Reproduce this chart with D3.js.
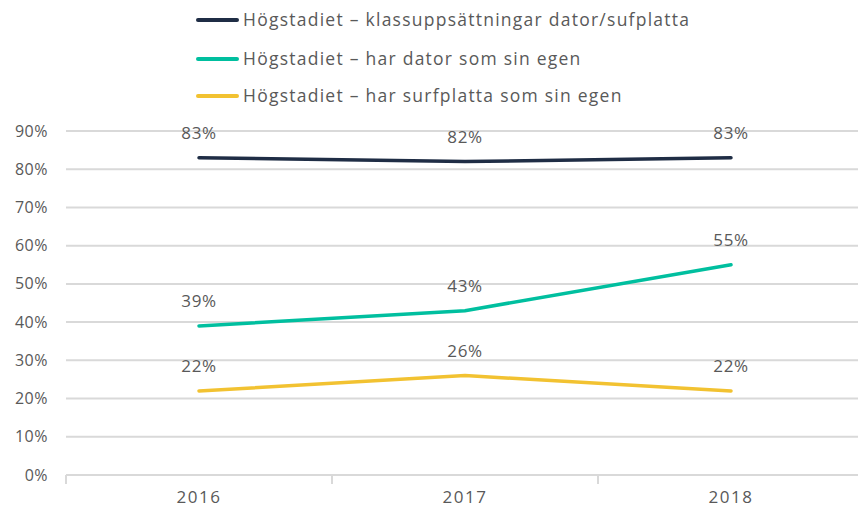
<!DOCTYPE html>
<html>
<head>
<meta charset="utf-8">
<script src="https://cdn.jsdelivr.net/npm/d3@7"></script>
<style>
  body { margin: 0; background: #fff; }
  text { font-family: "Open Sans", "Lato", sans-serif; fill: #595959; }
</style>
</head>
<body>
<svg id="chart" width="858" height="507"></svg>
<script>
const years = ["2016", "2017", "2018"];
const seriesNames = [
    "Högstadiet – klassuppsättningar dator/sufplatta",
    "Högstadiet – har dator som sin egen",
    "Högstadiet – har surfplatta som sin egen"
];
const seriesColors = ["#1f2d45", "#00bf9f", "#f2c231"];
const klassValues = [83, 82, 83];
const datorValues = [39, 43, 55];
const surfValues = [22, 26, 22];
const yTicks = [0, 10, 20, 30, 40, 50, 60, 70, 80, 90];

const allSeries = [klassValues, datorValues, surfValues];

const svg = d3.select("#chart");
const x = d3.scaleBand().domain(years).range([66, 864]);
const y = d3.scaleLinear().domain([0, 90]).range([475, 131]);

// gridlines
svg.append("g").selectAll("line")
    .data(yTicks).enter().append("line")
    .attr("x1", 66).attr("x2", 858)
    .attr("y1", d => y(d)).attr("y2", d => y(d))
    .attr("stroke", "#d9d9d9").attr("stroke-width", 2);

// y labels
svg.append("g").selectAll("text")
    .data(yTicks).enter().append("text")
    .attr("x", 48).attr("y", d => y(d))
    .attr("dy", "0.35em").attr("text-anchor", "end")
    .attr("font-size", 16).attr("letter-spacing", 0.5)
    .text(d => d + "%");

// x axis
const xAxis = svg.append("g").attr("transform", `translate(0,${y(0)})`)
    .call(d3.axisBottom(x).tickSize(0).tickPadding(16));
xAxis.select(".domain").remove();
xAxis.selectAll("text").attr("font-size", 17).attr("fill", "#595959")
    .attr("letter-spacing", 1.5)
    .attr("font-family", "Open Sans, Lato, sans-serif");
svg.append("g").selectAll("line")
    .data([66, ...years.map(d => x(d) + x.bandwidth())]).enter().append("line")
    .attr("x1", d => d).attr("x2", d => d)
    .attr("y1", y(0)).attr("y2", y(0) + 9)
    .attr("stroke", "#d9d9d9").attr("stroke-width", 2);

const line = d3.line()
    .x((d, i) => x(years[i]) + x.bandwidth() / 2)
    .y(d => y(d));

allSeries.forEach((vals, si) => {
    svg.append("path").datum(vals)
        .attr("d", line)
        .attr("fill", "none")
        .attr("stroke", seriesColors[si])
        .attr("stroke-width", 3.5)
        .attr("stroke-linecap", "round");
    svg.append("g").selectAll("text")
        .data(vals).enter().append("text")
        .attr("x", (d, i) => x(years[i]) + x.bandwidth() / 2)
        .attr("y", d => y(d) - 25)
        .attr("dy", "0.35em")
        .attr("text-anchor", "middle")
        .attr("font-size", 17).attr("letter-spacing", 0.6)
        .text(d => d + "%");
});

// legend
const legendY = [20, 59, 96];
const legend = svg.append("g").selectAll("g")
    .data(seriesNames).enter().append("g")
    .attr("transform", (d, i) => `translate(0,${legendY[i]})`);
legend.append("line")
    .attr("x1", 198).attr("x2", 237)
    .attr("stroke", (d, i) => seriesColors[i])
    .attr("stroke-width", 4).attr("stroke-linecap", "round");
legend.append("text")
    .attr("x", 243).attr("dy", "0.35em")
    .attr("font-size", 17.5).attr("letter-spacing", 1.25)
    .text(d => d);
</script>
</body>
</html>
